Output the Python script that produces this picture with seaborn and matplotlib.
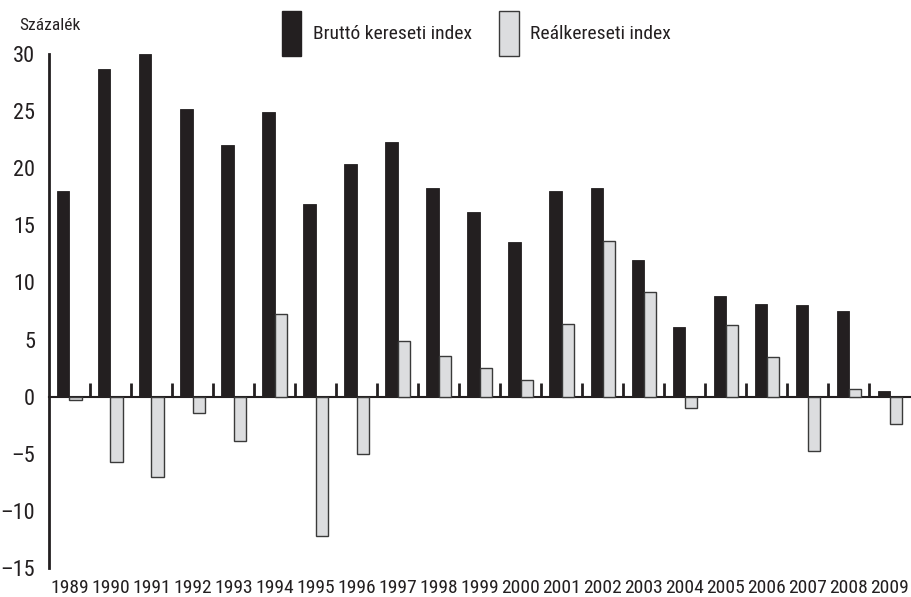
import os
import matplotlib
matplotlib.use("Agg")
import matplotlib.pyplot as plt
from matplotlib import font_manager
import numpy as np
import pandas as pd
import seaborn as sns

# Data (percent)
years = [str(y) for y in range(1989, 2010)]
brutto = [18.0, 28.7, 30.0, 25.2, 22.0, 24.9, 16.9, 20.4, 22.3, 18.3, 16.2,
          13.5, 18.0, 18.3, 12.0, 6.1, 8.8, 8.1, 8.0, 7.5, 0.5]
real = [-0.3, -5.7, -7.0, -1.4, -3.9, 7.2, -12.2, -5.0, 4.9, 3.6, 2.5,
        1.5, 6.4, 13.6, 9.2, -1.0, 6.3, 3.5, -4.8, 0.7, -2.4]
series = ["Bruttó kereseti index", "Reálkereseti index"]

df = pd.DataFrame({
    "year": years * 2,
    "value": brutto + real,
    "series": [series[0]] * len(years) + [series[1]] * len(years),
})

# look for a condensed face, the reference uses a narrow font
files = [f.fname for f in font_manager.fontManager.ttflist]
cond = None
for key in ["LiberationSansNarrow-Regular", "RobotoCondensed-Regular",
            "DejaVuSansCondensed.ttf", "OpenSans_Condensed-Regular",
            "OpenSansCondensed", "NotoSans-Condensed.", "NotoSans-CondensedRegular"]:
    hits = [f for f in files if key in os.path.basename(f)]
    if hits:
        cond = hits[0]
        break


def fprop(size):
    if cond:
        return font_manager.FontProperties(fname=cond, size=size)
    return font_manager.FontProperties(family="DejaVu Sans", size=size * 0.8)


sns.set_style("white")
plt.rcParams["font.family"] = ["DejaVu Sans"]

fig = plt.figure(figsize=(9.12, 5.97), dpi=100)
ax = fig.add_axes([0.0537, 0.0486, 0.9443, 0.8609])

black = "#231f20"
gray = "#dcdddf"
sns.barplot(data=df, x="year", y="value", hue="series", palette=[black, gray],
            saturation=1, width=0.59, gap=0, ax=ax, legend=True)

n = len(years)
for i, p in enumerate(ax.patches[:2 * n]):
    if i < n:
        p.set_edgecolor(black)
        p.set_linewidth(0.6)
    else:
        p.set_edgecolor("#3a3a3a")
        p.set_linewidth(1.0)

ax.set_xlim(-0.5, n - 0.5)
ax.set_ylim(-15, 30)
ax.set_xlabel("")
ax.set_ylabel("")

for s in ["top", "right", "bottom"]:
    ax.spines[s].set_visible(False)
ax.spines["left"].set_linewidth(2)
ax.spines["left"].set_color(black)

ax.set_yticks(np.arange(-15, 31, 5))
ax.set_yticklabels([str(v).replace("-", "–") for v in range(-15, 31, 5)])
ax.tick_params(axis="y", direction="in", length=16, width=2, color=black,
               pad=10, labelcolor=black)
ax.tick_params(axis="x", length=0, pad=8, labelcolor=black)
for lbl in ax.get_yticklabels():
    lbl.set_fontproperties(fprop(16))
for lbl in ax.get_xticklabels():
    lbl.set_fontproperties(fprop(14))

# zero line with group separators
zero = ax.secondary_xaxis(1 / 3)
zero.set_xticks(np.arange(n - 1) + 0.5, labels=[""] * (n - 1))
zero.tick_params(axis="x", direction="in", length=10, width=2, color=black)
zero.spines["bottom"].set_linewidth(1.5)
zero.spines["bottom"].set_color(black)

fig.text(0.021, 0.958, "Százalék", fontproperties=fprop(12.5), color=black,
         va="center")

handles, labels = ax.get_legend_handles_labels()
for h, ec in zip(handles, [black, "#3a3a3a"]):
    h.set_edgecolor(ec)
    h.set_linewidth(1.0)
ax.legend(handles, labels, loc="center left", bbox_to_anchor=(0.290, 0.944),
          bbox_transform=fig.transFigure, ncol=2, frameon=False,
          prop=fprop(14), handlelength=1.0, handleheight=3.2,
          handletextpad=0.6, columnspacing=1.4, labelcolor=black)

fig.savefig("out.png", dpi=100)
